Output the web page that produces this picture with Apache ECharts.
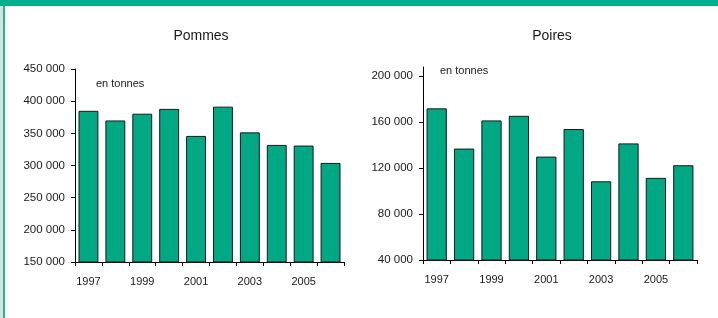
<!DOCTYPE html>
<html>
<head>
    <meta charset="utf-8">
    <title>Pommes et Poires</title>
    <script src="https://cdn.jsdelivr.net/npm/echarts@6/dist/echarts.min.js"></script>
</head>
<body style="margin:0;background:#fff">
<div id="container" style="width:718px;height:318px"></div>
<script type="text/javascript">
    // données (en tonnes)
    var annees = ['1997', '1998', '1999', '2000', '2001', '2002', '2003', '2004', '2005', '2006'];
    var pommes = [385000, 370000, 380500, 388000, 346000, 391500, 351500, 332000, 331000, 304000];
    var poires = [172000, 137000, 161500, 165500, 130000, 154000, 108500, 141500, 111500, 122500];
    var ticksPoires = [40000, 80000, 120000, 160000, 200000];

    var vert = '#00a884';
    var police = 'Liberation Sans, Arial, sans-serif';

    function fmt(v) {
        return String(v).replace(/\B(?=(\d{3})+(?!\d))/g, ' ');
    }

    var myChart = echarts.init(document.getElementById('container'));

    function axeX(idx) {
        return {
            type: 'category',
            gridIndex: idx,
            data: annees,
            boundaryGap: true,
            axisLine: {lineStyle: {color: '#000', width: 1}},
            axisTick: {show: true, interval: 0, length: 4, lineStyle: {color: '#000'}},
            axisLabel: {interval: 1, margin: 14, color: '#1a1a1a', fontSize: 11, fontFamily: police}
        };
    }

    function axeY(idx) {
        return {
            type: 'value',
            gridIndex: idx,
            splitLine: {show: false},
            axisLine: {show: true, lineStyle: {color: '#000', width: 1}},
            axisTick: {show: true, length: 4, lineStyle: {color: '#000'}},
            axisLabel: {margin: 10, color: '#1a1a1a', fontSize: 11.5, fontFamily: police, formatter: fmt}
        };
    }

    var yPommes = axeY(0);
    yPommes.min = 150000;
    yPommes.max = 450000;
    yPommes.interval = 50000;

    var yPoires = axeY(1);
    yPoires.min = 40000;
    yPoires.max = 208000;
    yPoires.axisTick.customValues = ticksPoires;
    yPoires.axisLabel.customValues = ticksPoires;

    var barStyle = {color: vert, borderColor: '#1a1a1a', borderWidth: 1};

    myChart.setOption({
        animation: false,
        title: [
            {text: 'Pommes', left: 196, top: 24, textAlign: 'center',
                textStyle: {fontSize: 14, fontWeight: 'normal', color: '#1a1a1a', fontFamily: police}},
            {text: 'Poires', left: 547, top: 24, textAlign: 'center',
                textStyle: {fontSize: 14, fontWeight: 'normal', color: '#1a1a1a', fontFamily: police}},
            {text: 'en tonnes', left: 91, top: 73,
                textStyle: {fontSize: 11, fontWeight: 'normal', color: '#1a1a1a', fontFamily: police}},
            {text: 'en tonnes', left: 435, top: 60,
                textStyle: {fontSize: 11, fontWeight: 'normal', color: '#1a1a1a', fontFamily: police}}
        ],
        graphic: [
            {type: 'rect', shape: {x: 0, y: 0, width: 718, height: 6}, style: {fill: '#00b08c'}},
            {type: 'rect', shape: {x: 0, y: 6, width: 3, height: 312}, style: {fill: '#d3e3dc'}},
            {type: 'rect', shape: {x: 3, y: 6, width: 2, height: 312}, style: {fill: '#1cb893'}}
        ],
        grid: [
            {left: 75, right: 374, top: 69, bottom: 56},
            {left: 423, right: 21, top: 67, bottom: 58}
        ],
        xAxis: [axeX(0), axeX(1)],
        yAxis: [yPommes, yPoires],
        series: [
            {name: 'Pommes', type: 'bar', xAxisIndex: 0, yAxisIndex: 0, barWidth: '74%',
                itemStyle: barStyle, data: pommes},
            {name: 'Poires', type: 'bar', xAxisIndex: 1, yAxisIndex: 1, barWidth: '74%',
                itemStyle: barStyle, data: poires}
        ]
    });
</script>
</body>
</html>
